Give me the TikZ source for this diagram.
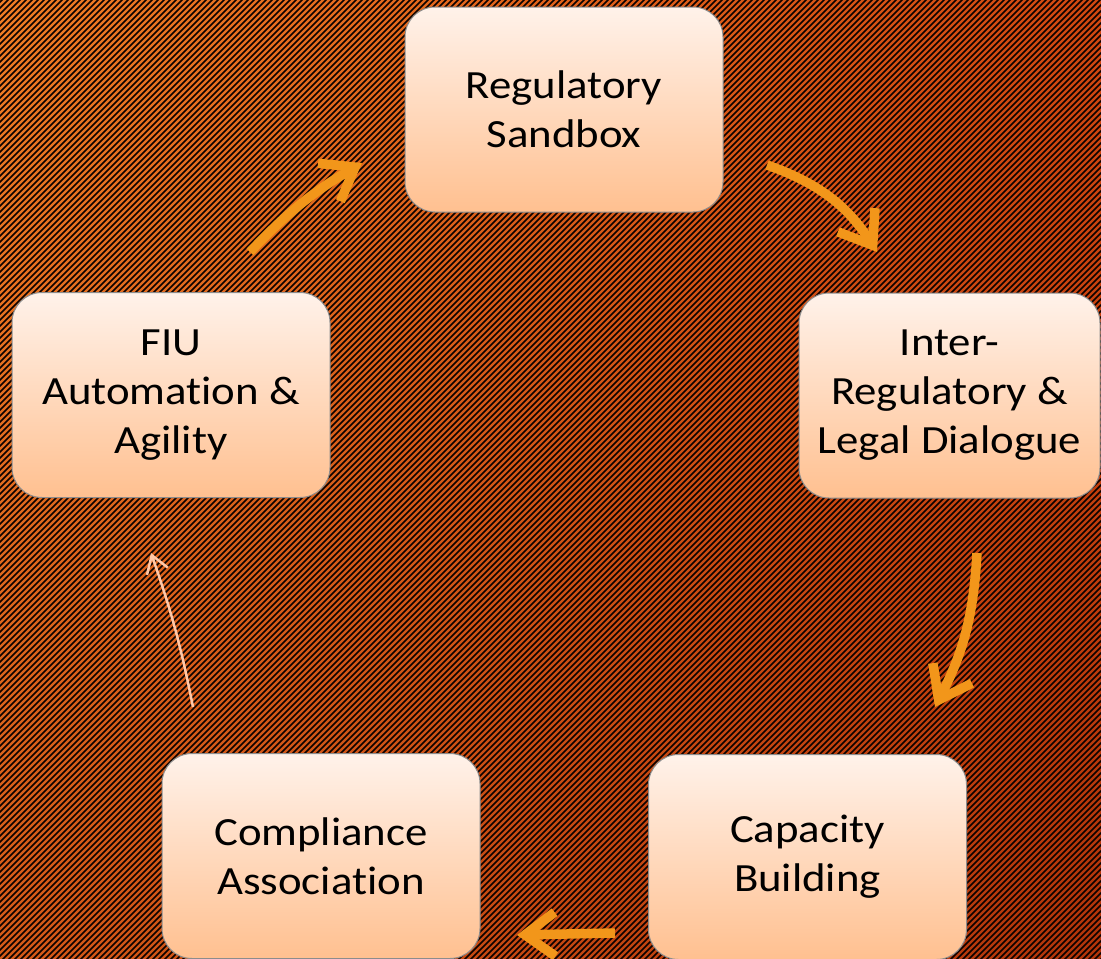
\documentclass[tikz,border=0pt]{standalone}
\usepackage{fontspec}
\setmainfont{Carlito}[Ligatures=NoCommon, FakeStretch=1.12]
\usetikzlibrary{arrows.meta,shadings}
\definecolor{bgTL}{RGB}{240,124,36}
\definecolor{bgTR}{RGB}{210,72,16}
\definecolor{bgBL}{RGB}{214,90,24}
\definecolor{bgBR}{RGB}{178,52,10}
\definecolor{stripe}{RGB}{12,2,0}
\definecolor{boxtop}{RGB}{255,242,234}
\definecolor{boxbot}{RGB}{255,192,144}
\definecolor{boxline}{RGB}{140,140,140}
\definecolor{arrowor}{RGB}{242,150,26}
\definecolor{thinc}{RGB}{255,200,168}
\begin{document}
\begin{tikzpicture}[x=1pt,y=-1pt,
  box/.style={draw=boxline, line width=1pt, rounded corners=30pt,
    top color=boxtop, bottom color=boxbot,
    minimum width=318pt, minimum height=205pt, inner sep=0pt,
    align=center, font=\fontsize{40}{49}\selectfont},
  flow/.style={draw=arrowor, line width=9.5pt,
    -{Straight Barb[length=30pt,width=44pt]}},
  thinflow/.style={draw=thinc, line width=2.5pt,
    -{Straight Barb[length=17pt,width=22pt]}}]
\useasboundingbox (0,0) rectangle (1101,959);
\begin{scope}
\clip (0,0) rectangle (1101,959);
\shade[upper left=bgTL, upper right=bgTR, lower left=bgBL, lower right=bgBR]
  (0,0) rectangle (1101,959);
\foreach \i in {-960,-954,...,1104} {
  \draw[stripe, line width=1.7pt] (\i,962) -- (\i+965,-3);
}
\end{scope}
\node[box] (sand) at (564,109.5) {Regulatory\\Sandbox};
\node[box] (fiu) at (171,395) {FIU\\Automation \&\\Agility};
\node[box, minimum width=301pt] (inter) at (949.5,395.5) {Inter-\\Regulatory \&\\Legal Dialogue};
\node[box] (comp) at (321,856) {Compliance\\Association};
\node[box] (cap) at (807.5,857) {Capacity\\Building};
\coordinate (a1s) at (250,252); \coordinate (a1e) at (362,163);
\coordinate (a2s) at (767,165); \coordinate (a2e) at (877,252);
\coordinate (a3s) at (977,553); \coordinate (a3e) at (935,707);
\coordinate (a4s) at (615,933); \coordinate (a4e) at (517,935);
\coordinate (a5s) at (193,707); \coordinate (a5e) at (151,553);
\draw[flow] (a1s) to[bend left=8] (a1e);
\draw[flow] (a2s) to[bend left=19] (a2e);
\draw[flow] (a3s) to[bend left=12] (a3e);
\draw[flow] (a4s) to (a4e);
\draw[thinflow] (a5s) to[bend right=4] (a5e);
\end{tikzpicture}
\end{document}
